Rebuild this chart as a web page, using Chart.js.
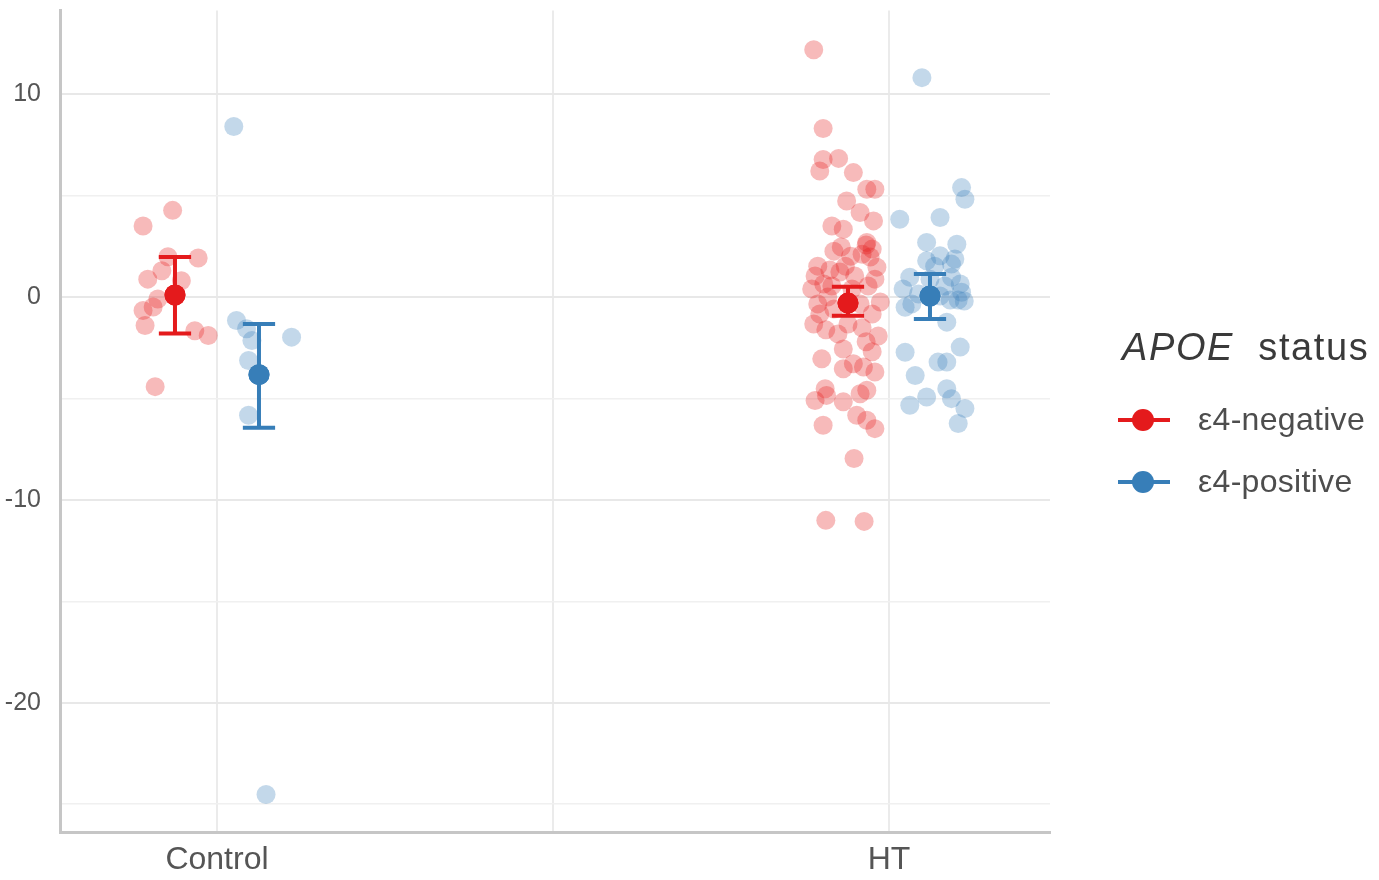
<!DOCTYPE html>
<html>
<head>
<meta charset="utf-8">
<script src="https://cdn.jsdelivr.net/npm/chart.js@4"></script>
<style>
  body { margin: 0; background: #fff; font-family: "Liberation Sans", Arial, sans-serif; }
  #wrap { position: relative; width: 1379px; height: 880px; overflow: hidden; }
  #legend { position: absolute; left: 1116px; top: 326px; color: #444; }
  .ttl { font-size: 38px; color: #3a3a3a; white-space: nowrap; letter-spacing: 1.6px; margin-left: 6px; }
  .item { position: relative; height: 62px; }
  .sym { position: absolute; left: 2px; top: 29px; width: 52px; height: 4px; }
  .dot { position: absolute; left: 16px; top: 20px; width: 22px; height: 22px; border-radius: 50%; }
  .lab { position: absolute; left: 82px; top: 12px; font-size: 32px; color: #4d4d4d; white-space: nowrap; letter-spacing: 0.3px; }
</style>
</head>
<body>
<div id="wrap">
  <canvas id="chart" width="1379" height="880"></canvas>
  <div id="legend">
    <div class="ttl"><i>APOE</i>&nbsp;&nbsp;status</div>
    <div style="height:20px"></div>
    <div class="item"><div class="sym" style="background:#e41a1c"></div><div class="dot" style="background:#e41a1c"></div><div class="lab">ε4-negative</div></div>
    <div class="item"><div class="sym" style="background:#377eb8"></div><div class="dot" style="background:#377eb8"></div><div class="lab">ε4-positive</div></div>
  </div>
</div>
<script>
const categories = ['Control', 'HT'];
const catPos = [1, 2];
const yTicks = [-25, -20, -15, -10, -5, 0, 5, 10];

// group summaries (mean and error bar ends), per category
const negX = [0.9375, 1.939];
const negMean = [0.1, -0.3];
const negLow = [-1.8, -0.93];
const negHigh = [1.97, 0.5];

const posX = [1.0625, 2.061];
const posMean = [-3.83, 0.05];
const posLow = [-6.44, -1.08];
const posHigh = [-1.33, 1.13];

// jittered individual points [x, y]
const controlNeg = [
  [0.934, 4.27], [0.890, 3.50], [0.927, 1.98], [0.972, 1.92], [0.897, 0.88],
  [0.918, 1.29], [0.947, 0.80], [0.912, -0.10], [0.890, -0.67], [0.905, -0.49],
  [0.893, -1.41], [0.967, -1.66], [0.987, -1.90], [0.908, -4.42]
];
const controlPos = [
  [1.025, 8.40], [1.029, -1.16], [1.044, -1.57], [1.052, -2.15], [1.111, -1.98],
  [1.047, -3.13], [1.047, -5.83], [1.073, -24.52]
];
const htNeg = [
  [1.888, 12.19], [1.902, 8.30], [1.902, 6.78], [1.925, 6.83], [1.897, 6.21],
  [1.947, 6.13], [1.967, 5.31], [1.979, 5.31], [1.937, 4.73], [1.957, 4.16],
  [1.977, 3.75], [1.915, 3.50], [1.932, 3.34], [1.967, 2.69], [1.918, 2.26],
  [1.929, 2.46], [1.966, 2.56], [1.975, 2.36], [1.972, 1.97], [1.943, 2.01],
  [1.960, 2.11], [1.894, 1.52], [1.912, 1.33], [1.890, 1.03], [1.927, 1.23],
  [1.982, 1.47], [1.903, 0.64], [1.885, 0.39], [1.969, 0.54], [1.949, 1.03],
  [1.909, 0.00], [1.987, -0.25], [1.975, -0.84], [1.894, -0.34], [1.888, -1.33],
  [1.906, -1.62], [1.924, -1.82], [1.939, -1.33], [1.960, -1.52], [1.984, -1.92],
  [1.897, -0.84], [1.918, -0.59], [1.966, -2.21], [1.932, -2.56], [1.975, -2.70],
  [1.900, -3.05], [1.947, -3.29], [1.932, -3.54], [1.962, -3.45], [1.979, -3.70],
  [1.905, -4.52], [1.967, -4.60], [1.890, -5.10], [1.907, -4.85], [1.932, -5.17],
  [1.957, -4.77], [1.952, -5.83], [1.967, -6.08], [1.902, -6.32], [1.979, -6.49],
  [1.948, -7.96], [1.906, -11.01], [1.963, -11.06], [1.945, 0.39], [1.957, -0.34],
  [1.935, 1.52], [1.979, 0.88], [1.915, 0.54]
];
const htPos = [
  [2.049, 10.81], [2.108, 5.39], [2.113, 4.82], [2.016, 3.83], [2.076, 3.92],
  [2.056, 2.69], [2.101, 2.60], [2.056, 1.78], [2.076, 2.03], [2.093, 1.62],
  [2.031, 0.97], [2.021, 0.39], [2.093, 0.97], [2.106, 0.64], [2.108, 0.23],
  [2.044, 0.15], [2.034, -0.34], [2.024, -0.51], [2.086, -1.24], [2.106, -2.47],
  [2.024, -2.72], [2.073, -3.21], [2.086, -3.21], [2.039, -3.87], [2.056, -4.93],
  [2.086, -4.52], [2.093, -5.01], [2.031, -5.34], [2.113, -5.50], [2.103, -6.24],
  [2.076, 0.05], [2.091, -0.15], [2.103, -0.15], [2.112, -0.20], [2.083, 0.54],
  [2.068, 1.52], [2.061, 0.88], [2.098, 1.87]
];

const red = '#e41a1c';
const blue = '#377eb8';
const redFaint = 'rgba(228,26,28,0.3)';
const blueFaint = 'rgba(55,126,184,0.3)';

const toPts = arr => arr.map(p => ({ x: p[0], y: p[1] }));

// error bars drawn through the chart scales
const errorBars = {
  id: 'errorBars',
  afterDatasetsDraw(chart) {
    const { ctx, scales: { x, y } } = chart;
    const cap = 0.024;
    const groups = [
      [negX, negLow, negHigh, red],
      [posX, posLow, posHigh, blue]
    ];
    ctx.save();
    ctx.lineWidth = 4;
    groups.forEach(([xs, lo, hi, col]) => {
      ctx.strokeStyle = col;
      xs.forEach((xv, i) => {
        const px = x.getPixelForValue(xv);
        const l = x.getPixelForValue(xv - cap);
        const r = x.getPixelForValue(xv + cap);
        const top = y.getPixelForValue(hi[i]);
        const bot = y.getPixelForValue(lo[i]);
        ctx.beginPath();
        ctx.moveTo(px, top); ctx.lineTo(px, bot);
        ctx.moveTo(l, top); ctx.lineTo(r, top);
        ctx.moveTo(l, bot); ctx.lineTo(r, bot);
        ctx.stroke();
      });
    });
    ctx.restore();
    // means back on top of the bars
    chart.getDatasetMeta(4).data.forEach(el => el.draw(ctx));
    chart.getDatasetMeta(5).data.forEach(el => el.draw(ctx));
  }
};

const noPad = s => { s.paddingTop = 0; s.paddingBottom = 0; s.paddingLeft = 0; s.paddingRight = 0; };

const chart = new Chart(document.getElementById('chart'), {
  type: 'scatter',
  data: {
    datasets: [
      { data: toPts(controlNeg), backgroundColor: redFaint, pointRadius: 9.5, borderWidth: 0 },
      { data: toPts(htNeg), backgroundColor: redFaint, pointRadius: 9.5, borderWidth: 0 },
      { data: toPts(controlPos), backgroundColor: blueFaint, pointRadius: 9.5, borderWidth: 0 },
      { data: toPts(htPos), backgroundColor: blueFaint, pointRadius: 9.5, borderWidth: 0 },
      { data: negX.map((v, i) => ({ x: v, y: negMean[i] })), backgroundColor: red, pointRadius: 10.5, borderWidth: 0 },
      { data: posX.map((v, i) => ({ x: v, y: posMean[i] })), backgroundColor: blue, pointRadius: 10.5, borderWidth: 0 }
    ]
  },
  options: {
    responsive: false,
    animation: false,
    layout: { padding: { top: 3, right: 329, left: 0, bottom: 0 } },
    plugins: { legend: { display: false }, tooltip: { enabled: false } },
    scales: {
      x: {
        type: 'linear',
        min: 0.7664,
        max: 2.2396,
        afterBuildTicks: s => { s.ticks = [{ value: 1 }, { value: 1.5 }, { value: 2 }]; },
        afterFit: s => { s.height = 48; noPad(s); },
        ticks: {
          padding: 9,
          color: '#555',
          font: { family: 'Liberation Sans', size: 32 },
          callback: v => (v === 1 ? categories[0] : v === 2 ? categories[1] : '')
        },
        grid: { color: '#ebebeb', lineWidth: 2, drawTicks: false },
        border: { display: true, color: '#c6c6c6', width: 3 }
      },
      y: {
        min: -26.37,
        max: 14.12,
        afterBuildTicks: s => { s.ticks = yTicks.map(v => ({ value: v })); },
        afterFit: s => { s.width = 60; noPad(s); },
        ticks: {
          padding: 19,
          color: '#555',
          font: { family: 'Liberation Sans', size: 25 },
          callback: v => (v % 10 === 0 ? String(v) : '')
        },
        grid: {
          drawTicks: false,
          color: c => (c.tick && c.tick.value % 10 === 0 ? '#e8e8e8' : '#f0f0f0'),
          lineWidth: c => (c.tick && c.tick.value % 10 === 0 ? 2 : 1.6)
        },
        border: { display: true, color: '#c6c6c6', width: 3 }
      }
    }
  },
  plugins: [errorBars]
});
</script>
</body>
</html>
